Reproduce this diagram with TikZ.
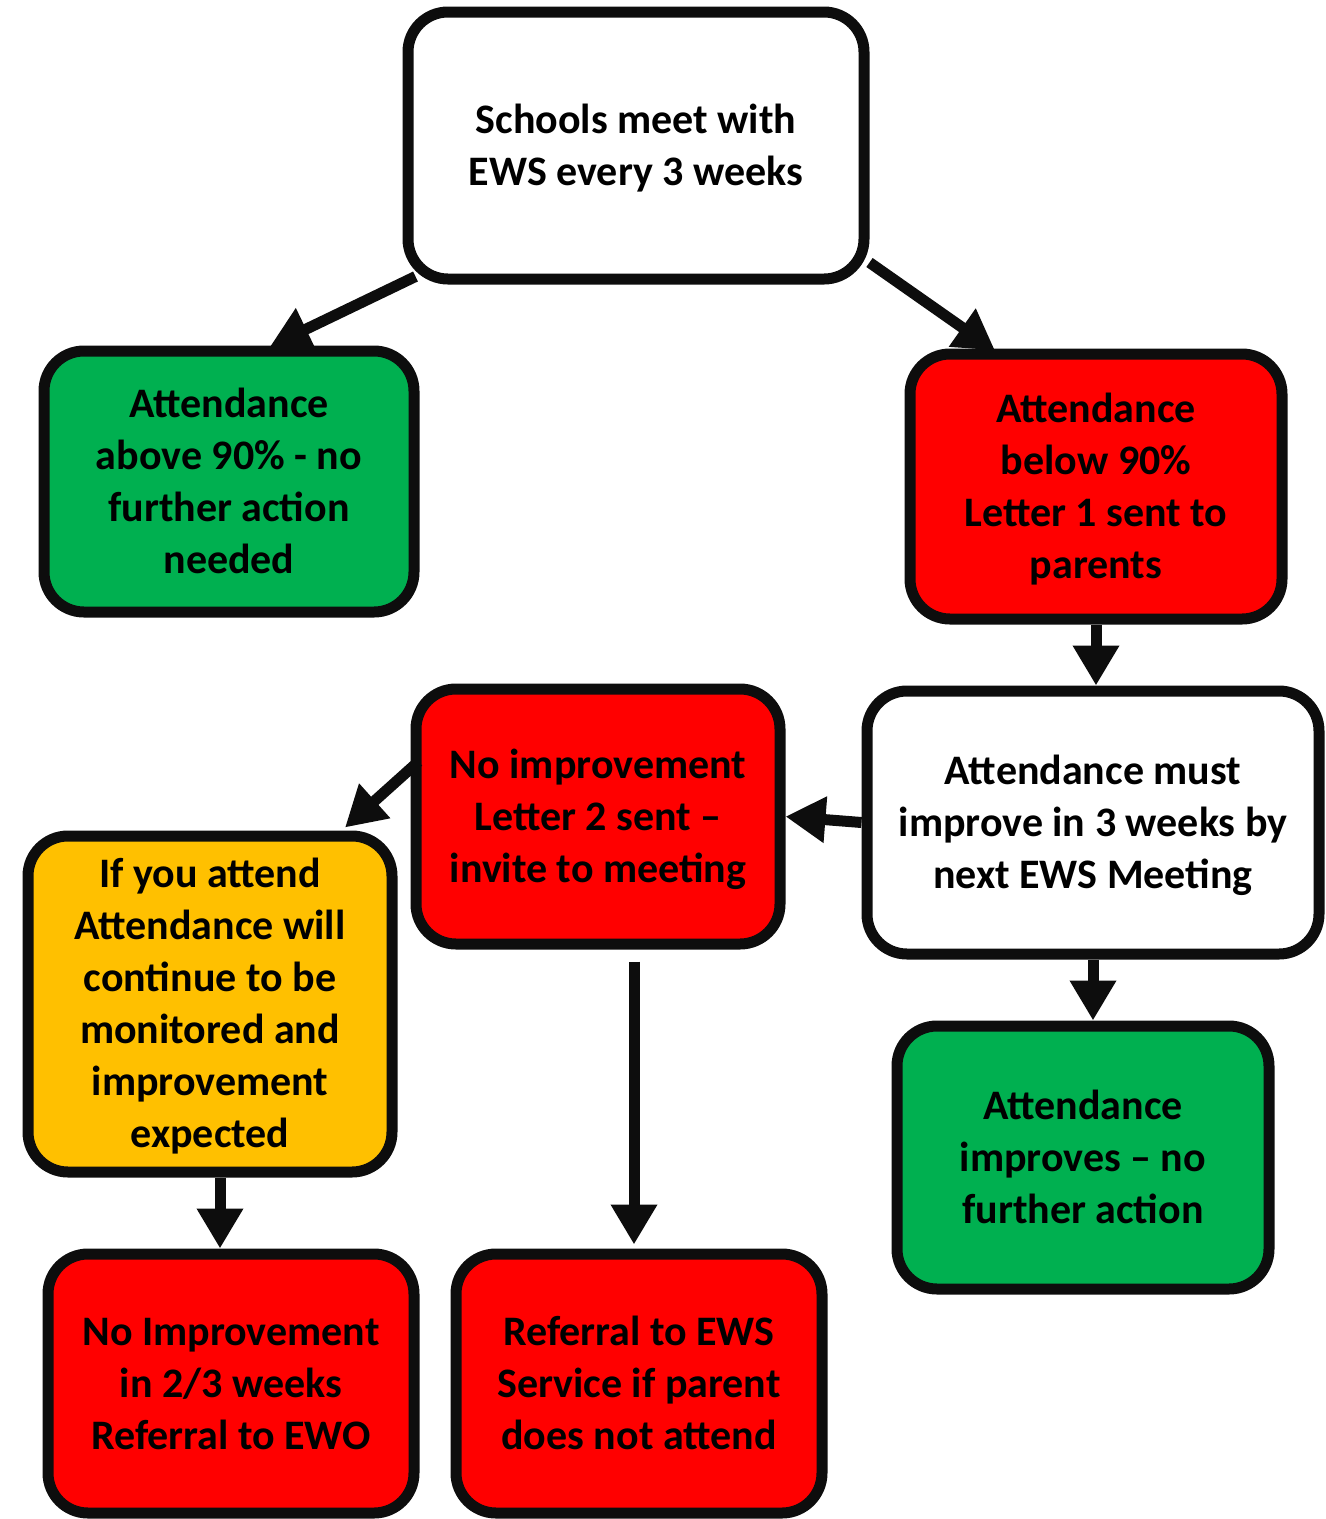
\documentclass[tikz,border=0pt]{standalone}
\usepackage{fontspec}
\setmainfont{Carlito}
\usetikzlibrary{arrows.meta}
\definecolor{gr}{HTML}{00B050}
\definecolor{rd}{HTML}{FF0000}
\definecolor{og}{HTML}{FFC000}
\definecolor{ink}{HTML}{0D0D0D}
\newcommand{\boxtext}[1]{\raisebox{-3.5pt}[\height][\depth]{\begin{tabular}{@{}c@{}}#1\end{tabular}}}
\begin{document}
\begin{tikzpicture}[x=1pt,y=-1pt,
 box/.style={draw=ink,line width=11pt,rounded corners=40pt,align=center,
   font=\fontsize{42}{52}\selectfont\bfseries,inner sep=0pt},
 arr/.style={draw=ink,line width=11pt,-{Triangle[length=40pt,width=44pt]}}]
\useasboundingbox (0,0) rectangle (1326,1519);

\node[box,fill=white,minimum width=456pt,minimum height=267pt] (t) at (636,145.5)
  {\boxtext{Schools meet with\\EWS every 3 weeks}};
\node[box,fill=gr,minimum width=370pt,minimum height=261pt] (g1) at (229,481.5)
  {\boxtext{Attendance\\above 90\% - no\\further action\\needed}};
\node[box,fill=rd,minimum width=372pt,minimum height=265pt] (r1) at (1096,486.5)
  {\boxtext{Attendance\\below 90\%\\Letter 1 sent to\\parents}};
\node[box,fill=white,minimum width=452pt,minimum height=263pt] (w) at (1093,822.5)
  {\boxtext{Attendance must\\improve in 3 weeks by\\next EWS Meeting}};
\node[box,fill=rd,minimum width=364pt,minimum height=255pt] (rm) at (598,816.5)
  {\boxtext{No improvement\\Letter 2 sent –\\invite to meeting}};
\node[box,fill=og,minimum width=364pt,minimum height=336pt] (o) at (210,1004)
  {\boxtext{If you attend\\Attendance will\\continue to be\\monitored and\\improvement\\expected}};
\node[box,fill=gr,minimum width=372pt,minimum height=263pt] (g2) at (1083,1157.5)
  {\boxtext{Attendance\\improves – no\\further action}};
\node[box,fill=rd,minimum width=366pt,minimum height=259pt] (b1) at (231,1383.5)
  {\boxtext{No Improvement\\in 2/3 weeks\\Referral to EWO}};
\node[box,fill=rd,minimum width=366pt,minimum height=259pt] (b2) at (639,1383.5)
  {\boxtext{Referral to EWS\\Service if parent\\does not attend}};

\draw[arr] ([xshift=13pt,yshift=8pt]t.south west) -- ([xshift=41pt,yshift=-1pt]g1.north);
\draw[arr] ([yshift=22pt]t.south east) -- ([xshift=-101pt,yshift=-2pt]r1.north);
\draw[arr] (r1.south) -- (r1.south |- w.north);
\draw[arr] (w.west) -- (rm.east);
\draw[arr] ([xshift=8pt,yshift=55pt]rm.west) -- ([xshift=135pt,yshift=3pt]o.north);
\draw[arr] ([xshift=-5pt,yshift=-12pt]b2.north |- rm.south) -- ([xshift=-5pt,yshift=4pt]b2.north);
\draw[arr] (w.south) -- (w.south |- g2.north);
\draw[arr] ([xshift=10pt]o.south) -- ([xshift=10pt]o.south |- b1.north);
\end{tikzpicture}
\end{document}
